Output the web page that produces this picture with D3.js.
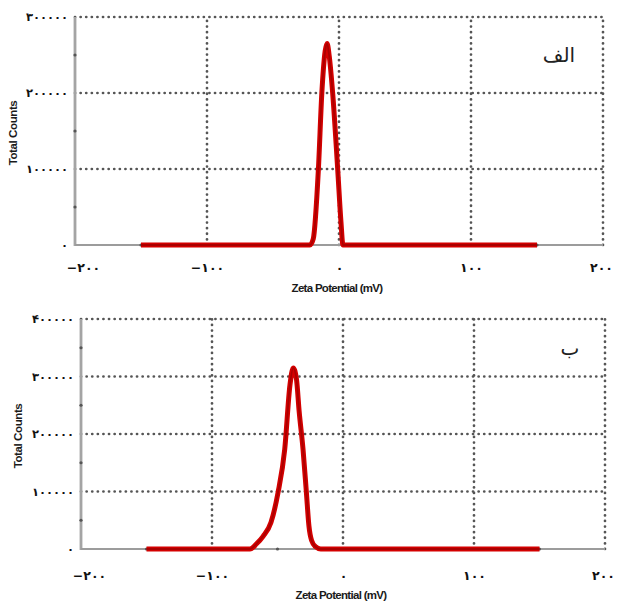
<!DOCTYPE html>
<html>
<head>
<meta charset="utf-8">
<script src="https://cdn.jsdelivr.net/npm/d3@7/dist/d3.min.js"></script>
<style>
  html, body { margin: 0; padding: 0; background: #fff; }
  svg { display: block; }
</style>
</head>
<body>
<svg id="chart" width="620" height="601"></svg>
<script>
// Zeta potential distributions (mV vs total counts)
const xTicks = [-200, -100, 0, 100, 200];
const xMinor = [-150, -50, 50, 150];

// Sample "الف"
const seriesA_x = [-150, -22, -19.5, -15.6, -13, -10.5, -9, -7.5, -4.8, -1, 1.5, 3, 150];
const seriesA_y = [0, 0, 8000, 100000, 200000, 255000, 265000, 250000, 200000, 100000, 30000, 0, 0];
const yTicksA = [0, 100000, 200000, 300000];
const yMinorA = [50000, 150000, 250000];

// Sample "ب"
const seriesB_x = [-150, -71, -66, -61, -55, -49.6, -44.5, -40.5, -38, -35.5, -33.5, -30.5, -28, -26, -24, -21, -17, 150];
const seriesB_y = [0, 0, 9000, 22000, 46000, 98000, 173000, 285000, 315000, 295000, 240000, 173000, 100000, 40000, 15000, 4000, 0, 0];
const yTicksB = [0, 100000, 200000, 300000, 400000];
const yMinorB = [50000, 150000, 250000, 350000];

const xTitle = "Zeta Potential (mV)";
const yTitle = "Total Counts";

// Extended Arabic-Indic digits
const faDigits = "۰۱۲۳۴۵۶۷۸۹";
const toFa = v => String(v).replace(/-/g, "\u2212").replace(/\d/g, d => faDigits[+d]);

const svg = d3.select("#chart");

function panel(cfg) {
  const x = d3.scaleLinear().domain([-200, 200]).range(cfg.xr);
  const y = d3.scaleLinear().domain([0, cfg.yMax]).range(cfg.yr);
  const g = svg.append("g");

  // dotted grid (includes the top and right borders)
  const dot = sel => sel.attr("stroke", "#555").attr("stroke-width", 2.7)
    .attr("stroke-linecap", "round").attr("stroke-dasharray", "0.1,5.5");
  g.append("g").selectAll("line").data(xTicks.filter(d => d > -200)).join("line")
    .attr("x1", d => x(d)).attr("x2", d => x(d))
    .attr("y1", y(0)).attr("y2", y(cfg.yMax)).call(dot);
  g.append("g").selectAll("line").data(cfg.yTicks.filter(d => d > 0)).join("line")
    .attr("x1", x(-200)).attr("x2", x(200))
    .attr("y1", d => y(d)).attr("y2", d => y(d)).call(dot);

  // solid axes
  g.append("line").attr("x1", x(-200)).attr("x2", x(-200))
    .attr("y1", y(0) + 1).attr("y2", y(cfg.yMax))
    .attr("stroke", "#a4a4a4").attr("stroke-width", 2.8);
  g.append("line").attr("x1", x(-200)).attr("x2", x(200))
    .attr("y1", y(0)).attr("y2", y(0))
    .attr("stroke", "#9c9c9c").attr("stroke-width", 2.2);

  // minor tick dots
  g.append("g").selectAll("circle").data(cfg.yMinor).join("circle")
    .attr("cx", x(-200)).attr("cy", d => y(d)).attr("r", 1.6).attr("fill", "#555");
  g.append("g").selectAll("circle").data(xMinor).join("circle")
    .attr("cx", d => x(d)).attr("cy", y(0)).attr("r", 1.6).attr("fill", "#555");

  // tick labels via d3 axes
  const ax = g.append("g").attr("transform", `translate(0,${y(0)})`)
    .call(d3.axisBottom(x).tickValues(xTicks).tickSize(0).tickPadding(cfg.xPad).tickFormat(toFa));
  ax.select(".domain").remove();
  ax.selectAll("text")
    .attr("font-family", "DejaVu Sans").attr("font-weight", "bold").attr("font-size", 12.5)
    .attr("fill", "#111").attr("direction", "ltr")
    .attr("dx", d => d === -200 ? 8 : (d === 200 ? -2 : 0));

  const ay = g.append("g").attr("transform", `translate(${x(-200)},0)`)
    .call(d3.axisLeft(y).tickValues(cfg.yTicks).tickSize(0).tickPadding(7).tickFormat(toFa));
  ay.select(".domain").remove();
  ay.selectAll("text")
    .attr("font-family", "DejaVu Sans").attr("font-weight", "bold").attr("font-size", 11.5)
    .attr("letter-spacing", -0.5)
    .attr("fill", "#111").attr("direction", "ltr");

  // titles
  g.append("text").attr("x", x(0) - 2).attr("y", cfg.xTitleY)
    .attr("text-anchor", "middle").attr("font-family", "Liberation Sans")
    .attr("font-weight", "bold").attr("font-size", 11.5).attr("letter-spacing", -0.7)
    .attr("fill", "#1a1a1a").text(xTitle);
  g.append("text")
    .attr("transform", `translate(${cfg.yTitleX},${(y(0) + y(cfg.yMax)) / 2 + 2}) rotate(-90)`)
    .attr("text-anchor", "middle").attr("font-family", "Liberation Sans")
    .attr("font-weight", "bold").attr("font-size", 11.5).attr("letter-spacing", -0.4)
    .attr("fill", "#1a1a1a").text(yTitle);

  // distribution curve
  const pts = cfg.xs.map((v, i) => [v, cfg.ys[i]]);
  const line = d3.line().x(d => x(d[0])).y(d => y(d[1])).curve(d3.curveMonotoneX);
  g.append("path").datum(pts).attr("d", line)
    .attr("fill", "none").attr("stroke", "#d40000").attr("stroke-width", 5)
    .attr("stroke-linejoin", "round");
  g.append("path").datum(pts).attr("d", line)
    .attr("fill", "none").attr("stroke", "#980000").attr("stroke-width", 1.8)
    .attr("stroke-linejoin", "round").attr("opacity", 0.7);

  // panel letter
  g.append("text").attr("x", cfg.tagX).attr("y", cfg.tagY)
    .attr("text-anchor", "middle").attr("font-family", "DejaVu Sans")
    .attr("font-size", 20).attr("fill", "#222").attr("direction", "rtl")
    .text(cfg.tag);
}

panel({
  xr: [75, 603], yr: [245, 17], yMax: 300000,
  yTicks: yTicksA, yMinor: yMinorA, xs: seriesA_x, ys: seriesA_y,
  xPad: 18, xTitleY: 292, yTitleX: 17,
  tag: "الف", tagX: 559, tagY: 62
});

panel({
  xr: [81, 605], yr: [549, 319], yMax: 400000,
  yTicks: yTicksB, yMinor: yMinorB, xs: seriesB_x, ys: seriesB_y,
  xPad: 22, xTitleY: 599, yTitleX: 22,
  tag: "ب", tagX: 570, tagY: 355
});
</script>
</body>
</html>
